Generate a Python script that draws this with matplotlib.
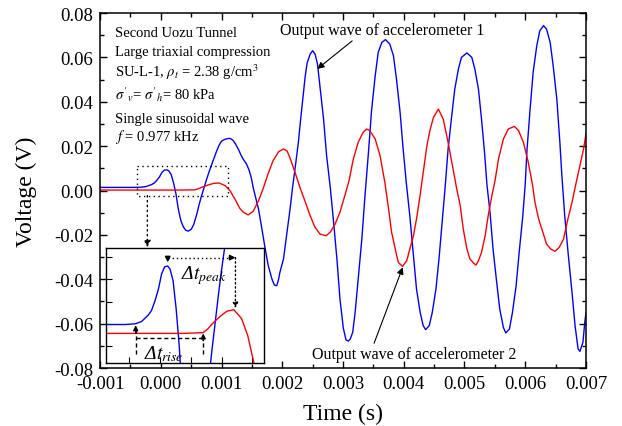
import numpy as np
import matplotlib
matplotlib.use("Agg")
import matplotlib.pyplot as plt
from matplotlib.ticker import MultipleLocator, FormatStrFormatter

plt.rcParams['font.family'] = ['Liberation Serif', 'DejaVu Serif']
plt.rcParams['mathtext.fontset'] = 'stix'
plt.rcParams['axes.unicode_minus'] = False

# ---- data (time in ms, voltage in mV) ----
t_acc1 = [-1.00, -0.70, -0.45, -0.32, -0.24, -0.15, -0.11, -0.065, -0.02, 0.02,
          0.06, 0.10, 0.13, 0.17, 0.21, 0.25, 0.29, 0.33, 0.37, 0.41,
          0.45, 0.50, 0.54, 0.59, 0.63, 0.67, 0.72, 0.76, 0.80, 0.84,
          0.88, 0.92, 0.96, 1.00, 1.05, 1.10, 1.14, 1.19, 1.23, 1.28,
          1.32, 1.36, 1.41, 1.45, 1.49, 1.52, 1.56, 1.61, 1.66, 1.72,
          1.77, 1.83, 1.87, 1.91, 1.94, 1.96, 2.02, 2.07, 2.13, 2.17,
          2.21, 2.265, 2.31, 2.35, 2.38, 2.41, 2.46, 2.50, 2.54, 2.58,
          2.62, 2.68, 2.73, 2.79, 2.84, 2.90, 2.95, 3.005, 3.05, 3.09,
          3.12, 3.16, 3.20, 3.25, 3.31, 3.36, 3.42, 3.47, 3.53, 3.58,
          3.64, 3.70, 3.77, 3.83, 3.88, 3.94, 3.99, 4.04, 4.10, 4.16,
          4.21, 4.27, 4.32, 4.36, 4.42, 4.47, 4.53, 4.58, 4.63, 4.68,
          4.73, 4.79, 4.84, 4.90, 4.95, 5.04, 5.12, 5.17, 5.23, 5.28,
          5.33, 5.37, 5.42, 5.47, 5.53, 5.58, 5.64, 5.68, 5.74, 5.79,
          5.85, 5.90, 5.96, 6.00, 6.03, 6.08, 6.13, 6.19, 6.24, 6.30,
          6.35, 6.41, 6.46, 6.52, 6.57, 6.60, 6.65, 6.71, 6.77, 6.82,
          6.87, 6.90, 6.95, 6.98, 7.00]
v_acc1 = [1.4, 1.4, 1.4, 1.5, 1.8, 2.7, 3.3, 4.6, 6.2, 8.2,
          9.2, 9.3, 8.9, 7.3, 3.5, -1.5, -8.5, -13.5, -16.3, -17.9,
          -18.3, -17.5, -15.5, -11.0, -6.5, -2.5, 2.0, 5.5, 8.8, 11.8,
          14.8, 17.8, 20.4, 22.2, 23.0, 23.4, 23.5, 22.6, 21.0, 18.5,
          16.0, 14.0, 12.0, 9.5, 5.8, 1.5, -3.0, -8.5, -16.5, -26.4,
          -33.9, -39.9, -42.6, -42.9, -40.0, -37.0, -30.9, -20.4, -8.0, 1.5,
          9.7, 21.7, 34.0, 44.3, 52.0, 57.5, 61.5, 63.0, 61.5, 57.0,
          47.2, 32.2, 15.7, 1.5, -12.8, -30.9, -48.9, -62.0, -67.4, -67.8,
          -66.9, -63.9, -54.9, -39.9, -21.9, -3.0, 17.5, 36.0, 51.7, 62.3,
          66.8, 68.0, 66.0, 60.8, 50.3, 35.2, 18.7, 4.0, -11.4, -29.4,
          -44.4, -54.9, -60.9, -62.7, -60.9, -54.9, -44.4, -30.9, -15.0, 1.0,
          18.7, 33.7, 45.7, 54.8, 60.0, 62.0, 60.0, 54.8, 45.7, 32.2,
          17.2, 2.5, -9.8, -26.4, -41.4, -53.4, -61.7, -64.2, -62.4, -54.9,
          -42.9, -27.9, -11.4, 3.0, 18.7, 36.7, 53.3, 65.3, 72.0, 74.3,
          72.8, 66.8, 56.2, 41.2, 21.7, 8.0, -11.4, -29.4, -45.9, -60.9,
          -71.4, -72.5, -68.4, -59.4, -55.0]

t_acc2 = [-1.00, -0.50, 0.00, 0.30, 0.56, 0.62, 0.68, 0.78, 0.87, 0.96,
          1.06, 1.14, 1.22, 1.30, 1.36, 1.44, 1.52, 1.61, 1.69, 1.77,
          1.85, 1.94, 2.02, 2.08, 2.13, 2.21, 2.29, 2.37, 2.46, 2.54,
          2.62, 2.72, 2.79, 2.87, 2.95, 3.03, 3.10, 3.17, 3.25, 3.33,
          3.39, 3.44, 3.53, 3.61, 3.69, 3.75, 3.80, 3.86, 3.91, 3.98,
          4.05, 4.10, 4.16, 4.21, 4.27, 4.32, 4.38, 4.43, 4.49, 4.57,
          4.65, 4.73, 4.82, 4.87, 4.93, 4.98, 5.04, 5.09, 5.15, 5.19,
          5.23, 5.28, 5.34, 5.39, 5.45, 5.50, 5.56, 5.64, 5.72, 5.82,
          5.89, 5.97, 6.05, 6.12, 6.16, 6.22, 6.29, 6.35, 6.42, 6.49,
          6.56, 6.63, 6.69, 6.77, 6.83, 6.90, 6.96, 7.00]
v_acc2 = [0.2, 0.2, 0.2, 0.2, 0.3, 0.8, 1.5, 2.5, 3.2, 3.4,
          2.2, -0.1, -3.8, -8.0, -9.8, -11.0, -9.4, -4.6, 1.2, 7.8,
          13.5, 17.5, 18.7, 17.8, 14.5, 8.2, 1.5, -4.5, -11.4, -16.6,
          -19.6, -20.4, -18.8, -15.1, -9.8, -2.3, 4.5, 14.2, 21.7, 26.2,
          27.7, 27.0, 23.2, 15.7, 3.5, -8.3, -18.8, -26.4, -32.4, -34.2,
          -31.6, -26.4, -20.4, -12.8, -2.0, 8.0, 20.0, 27.0, 33.0, 36.7,
          32.2, 21.7, 8.5, 1.0, -6.9, -17.4, -26.4, -30.9, -32.7, -33.6,
          -31.6, -27.9, -20.4, -11.4, -2.3, 4.0, 14.2, 23.2, 27.7, 28.9,
          27.0, 21.7, 12.7, 2.5, -5.3, -12.8, -18.8, -24.1, -26.4, -27.4,
          -25.6, -21.9, -14.3, -5.3, 2.5, 11.2, 18.7, 25.5]

info_lines = ["Second Uozu Tunnel",
              "Large triaxial compression",
              r"SU-L-1, $\rho_t$ = 2.38 g/cm$^3$",
              r"$\sigma'_v$= $\sigma'_h$= 80 kPa",
              "Single sinusoidal wave",
              r"$f$ = 0.977 kHz"]
info_y = [0.934, 0.882, 0.823, 0.759, 0.693, 0.641]

t1 = np.array(t_acc1) * 1e-3
v1 = np.array(v_acc1) * 1e-3
t2 = np.array(t_acc2) * 1e-3
v2 = np.array(v_acc2) * 1e-3

fig = plt.figure(figsize=(6.22, 4.27), dpi=100)
ax = fig.add_axes([0.1608, 0.1358, 0.7813, 0.8314])

ax.plot(t1, v1, color='#0000ff', lw=1.0)
ax.plot(t2, v2, color='#ff0000', lw=1.0)

ax.set_xlim(-0.001, 0.007)
ax.set_ylim(-0.08, 0.08)
ax.xaxis.set_major_locator(MultipleLocator(0.001))
ax.xaxis.set_minor_locator(MultipleLocator(0.0005))
ax.yaxis.set_major_locator(MultipleLocator(0.02))
ax.yaxis.set_minor_locator(MultipleLocator(0.01))
ax.xaxis.set_major_formatter(FormatStrFormatter('%.3f'))
ax.yaxis.set_major_formatter(FormatStrFormatter('%.2f'))
ax.tick_params(which='both', direction='in', top=True, right=True, width=1.0)
ax.tick_params(which='major', length=5, labelsize=13.5, pad=5)
ax.tick_params(which='minor', length=3)
for s in ax.spines.values():
    s.set_linewidth(1.1)

ax.set_xlabel("Time (s)", fontsize=17, labelpad=8)
ax.set_ylabel("Voltage (V)", fontsize=17, labelpad=12)

for txt, yy in zip(info_lines, info_y):
    ax.text(0.031, yy, txt, transform=ax.transAxes, fontsize=10.5,
            ha='left', va='baseline')

# dotted box around the onset + arrow down to the inset
box_t = [-0.000397, 0.00111, 0.00111, -0.000397, -0.000397]
box_v = [0.0112, 0.0112, -0.0023, -0.0023, 0.0112]
ax.plot(box_t, box_v, color='k', lw=1.0, ls=(0, (1, 2.5)))
ax.annotate("", xy=(-0.000221, -0.0256), xytext=(-0.000221, -0.0023),
            arrowprops=dict(arrowstyle='-|>', color='k', lw=1.0,
                            ls=(0, (1, 2.5)), mutation_scale=10,
                            shrinkA=0, shrinkB=0))

ax.annotate("Output wave of accelerometer 1", xy=(0.002577, 0.0548),
            xytext=(0.001963, 0.0723), fontsize=11.5, ha='left', va='center',
            arrowprops=dict(arrowstyle='-|>', color='k', lw=0.8,
                            mutation_scale=10, shrinkA=0, shrinkB=0,
                            relpos=(0.37, 0.0)))
ax.annotate("Output wave of accelerometer 2", xy=(0.003983, -0.0346),
            xytext=(0.002485, -0.0737), fontsize=11.5, ha='left', va='center',
            arrowprops=dict(arrowstyle='-|>', color='k', lw=0.8,
                            mutation_scale=10, shrinkA=0, shrinkB=0,
                            relpos=(0.30, 1.0)))

# ---- inset ----
ins = fig.add_axes([0.1712, 0.1475, 0.254, 0.2705])
ins.set_facecolor('white')
ins.plot(t1, v1, color='#0000ff', lw=1.0)
ins.plot(t2, v2, color='#ff0000', lw=1.0)
ins.set_xlim(-0.000695, 0.001357)
ins.set_ylim(-0.0038, 0.0118)
ins.set_xticks([-0.0004, 0.0, 0.0004, 0.0008, 0.0012])
ins.set_yticks([-0.0015, 0.0015, 0.0045, 0.0075, 0.0105])
ins.tick_params(direction='in', length=4, labelbottom=False, labelleft=False)
for s in ins.spines.values():
    s.set_linewidth(1.0)

dot = (0, (1, 2))
y_top = 0.01044
ins.plot([0.0001, 0.00098], [y_top, y_top], color='k', lw=1.0, ls=dot)
ins.annotate("", xy=(0.0001, 0.0098), xytext=(0.0001, y_top),
             arrowprops=dict(arrowstyle='-|>', color='k', lw=1.0,
                             mutation_scale=8, shrinkA=0, shrinkB=0))
ins.annotate("", xy=(0.00098, y_top), xytext=(0.00090, y_top),
             arrowprops=dict(arrowstyle='-|>', color='k', lw=1.0,
                             mutation_scale=8, shrinkA=0, shrinkB=0))
ins.annotate("", xy=(0.00098, 0.0036), xytext=(0.00098, y_top),
             arrowprops=dict(arrowstyle='-|>', color='k', lw=1.0, ls=dot,
                             mutation_scale=8, shrinkA=0, shrinkB=0))
ins.text(0.000575, 0.0082, "Δ$t_{peak}$", fontstyle='italic',
         fontsize=14, ha='center', va='center')

dash = (0, (3, 2))
y_rise = -0.00044
ins.plot([-0.000316, 0.000562], [y_rise, y_rise], color='k', lw=1.0, ls=dash)
ins.plot([-0.000316, -0.000316], [-0.0026, 0.0008], color='k', lw=1.0, ls=dash)
ins.plot([0.000562, 0.000562], [-0.0026, -0.0003], color='k', lw=1.0, ls=dash)
ins.annotate("", xy=(-0.000316, 0.0013), xytext=(-0.000316, 0.0002),
             arrowprops=dict(arrowstyle='-|>', color='k', lw=1.0,
                             mutation_scale=7, shrinkA=0, shrinkB=0))
ins.annotate("", xy=(0.000562, 0.0002), xytext=(0.000562, -0.0008),
             arrowprops=dict(arrowstyle='-|>', color='k', lw=1.0,
                             mutation_scale=7, shrinkA=0, shrinkB=0))
ins.text(0.000055, -0.0024, "Δ$t_{rise}$", fontstyle='italic',
         fontsize=14, ha='center', va='center')

fig.savefig("out.png", dpi=100)
